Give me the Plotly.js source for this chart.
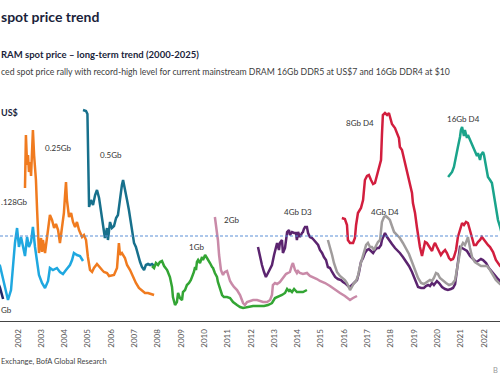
<!DOCTYPE html>
<html>
<head>
<meta charset="utf-8">
<script src="https://cdn.plot.ly/plotly-3.0.1.min.js"></script>
<style>
html,body{margin:0;padding:0;background:#fff;overflow:hidden;}
#chart{width:500px;height:383px;}
</style>
</head>
<body>
<div id="chart"></div>
<script>
// ---- DATA (decimal year, US$ index) ----
const yearTicks = [2002,2003,2004,2005,2006,2007,2008,2009,2010,2011,2012,2013,2014,2015,2016,2017,2018,2019,2020,2021,2022];
const refLevel = 8.5;

const mb64X = [2000.37,2000.80,2001.10,2001.23,2001.36];
const mb64Y = [7.1,5.1,4.1,3.3,2.2];

const mb128X = [2000.16,2000.71,2001.23,2001.40,2001.57,2001.70,2001.79,2001.87,2001.96,2002.04,2002.13,2002.21,2002.30,2002.39,2002.47,2002.56,2002.64,2002.73,2002.82,2002.90,2003.03,2003.16,2003.29,2003.37,2003.50,2003.67,2003.80,2003.93,2004.06,2004.23,2004.32,2004.40,2004.53,2004.66,2004.79];
const mb128Y = [9.1,7.3,5.5,3.8,2.1,3.1,5.6,7.8,9.3,7.4,8.4,7.3,6.5,8.4,7.4,7.9,9.4,7.4,5.9,4.6,3.8,3.3,4.0,5.3,5.1,5.3,4.9,4.7,5.1,5.6,6.1,6.8,6.6,6.5,6.0];

const mb256X = [2002.30,2002.32,2002.34,2002.39,2002.43,2002.47,2002.52,2002.56,2002.60,2002.64,2002.69,2002.73,2002.77,2002.82,2002.86,2002.90,2002.94,2002.99,2003.03,2003.07,2003.16,2003.24,2003.29,2003.37,2003.46,2003.55,2003.63,2003.72,2003.80,2003.89,2003.97,2004.02,2004.06,2004.10,2004.15,2004.19,2004.28,2004.36,2004.45,2004.53,2004.62,2004.75,2004.83,2004.92,2005.00,2005.09,2005.18,2005.26,2005.39,2005.52,2005.61,2005.69,2005.82,2005.91,2006.03,2006.12,2006.25,2006.29,2006.33,2006.38,2006.46,2006.59,2006.68,2006.81,2006.94,2007.06,2007.19,2007.32,2007.45,2007.58,2007.71,2007.84];
const mb256Y = [13.3,16.1,18.6,15.6,16.6,14.9,15.9,14.5,17.1,19.1,16.6,15.6,14.1,11.1,7.6,6.8,7.6,8.3,6.9,8.1,6.8,8.1,9.4,10.6,10.1,9.3,9.7,9.1,7.8,9.3,10.8,12.6,13.9,12.1,11.1,10.4,10.8,9.9,9.4,9.9,9.1,8.4,8.6,8.1,6.4,5.1,4.9,5.3,5.7,5.4,5.1,4.9,4.8,4.5,4.6,4.6,5.3,6.3,7.8,6.6,6.8,6.3,5.6,5.1,4.4,3.8,3.3,3.0,2.8,2.8,2.7,2.6];

const mb512X = [2004.79,2004.92,2004.98,2005.00,2005.03,2005.05,2005.13,2005.22,2005.31,2005.39,2005.48,2005.56,2005.65,2005.73,2005.82,2005.86,2005.95,2006.03,2006.12,2006.21,2006.29,2006.38,2006.46,2006.51,2006.59,2006.68,2006.76,2006.85,2006.94,2006.98,2007.06,2007.15,2007.24,2007.32,2007.41,2007.49,2007.58,2007.67,2007.75,2007.84];
const mb512Y = [21.1,21.0,20.7,17.1,12.6,11.4,12.1,11.6,12.6,13.1,12.3,11.1,9.6,8.3,9.3,8.1,9.9,9.3,9.5,10.3,10.6,12.3,13.6,14.1,13.3,12.1,11.1,9.6,8.3,7.8,7.4,6.6,5.9,5.4,5.1,5.6,5.7,5.6,5.7,5.5];

const gb1X = [2007.75,2007.84,2007.92,2008.01,2008.09,2008.18,2008.27,2008.40,2008.52,2008.61,2008.65,2008.74,2008.82,2008.87,2008.95,2009.04,2009.08,2009.17,2009.25,2009.34,2009.42,2009.47,2009.55,2009.60,2009.64,2009.68,2009.73,2009.81,2009.90,2009.94,2010.03,2010.11,2010.15,2010.24,2010.33,2010.37,2010.45,2010.54,2010.58,2010.67,2010.76,2010.84,2010.97,2011.10,2011.23,2011.40,2011.53,2011.66,2011.83,2011.96,2012.09,2012.26,2012.39,2012.56,2012.73,2012.90,2013.03,2013.16,2013.33,2013.46,2013.55,2013.63,2013.67,2013.76,2013.85,2013.89,2013.97,2014.10,2014.23,2014.40];
const gb1Y = [5.5,5.3,5.8,5.6,5.9,6.0,5.5,5.1,4.4,3.4,2.4,1.6,1.9,2.8,2.3,2.1,2.9,3.1,3.6,3.8,4.1,4.4,4.9,5.4,5.1,5.9,6.1,5.8,6.4,6.1,6.6,6.3,6.1,5.8,5.4,5.3,4.8,4.4,3.9,3.3,2.6,2.4,2.4,2.3,1.9,1.6,1.4,1.3,1.4,1.4,1.5,1.5,1.5,1.5,1.6,1.8,2.3,2.4,2.6,2.8,3.2,3.0,3.1,2.9,3.2,3.1,2.9,2.9,2.9,3.1];

const gb2X = [2010.45,2010.50,2010.54,2010.58,2010.63,2010.67,2010.71,2010.76,2010.80,2010.84,2010.88,2010.97,2011.01,2011.10,2011.18,2011.27,2011.40,2011.53,2011.66,2011.74,2011.83,2011.96,2012.09,2012.26,2012.39,2012.52,2012.69,2012.82,2012.90,2012.94,2013.03,2013.12,2013.24,2013.33,2013.42,2013.50,2013.59,2013.67,2013.76,2013.80,2013.89,2013.97,2014.02,2014.10,2014.23,2014.40,2014.53,2014.66,2014.83,2014.96,2015.18,2015.39,2015.61,2015.82,2016.03,2016.25,2016.38,2016.55];
const gb2Y = [10.4,9.6,8.9,8.1,6.6,5.6,5.1,4.8,4.6,4.8,4.9,5.0,4.6,4.0,3.7,3.4,3.1,2.6,1.8,1.6,1.9,2.0,2.1,2.1,2.0,1.9,1.9,2.1,2.6,3.6,3.8,3.7,3.9,4.2,4.5,4.7,4.8,4.9,5.6,5.8,5.1,4.8,5.0,4.8,4.7,4.8,4.5,4.4,4.2,4.0,3.8,3.5,3.1,2.8,2.5,2.1,2.3,2.5];

const gb4d3X = [2012.30,2012.39,2012.47,2012.56,2012.64,2012.73,2012.82,2012.90,2012.99,2013.07,2013.12,2013.20,2013.24,2013.33,2013.37,2013.46,2013.55,2013.63,2013.67,2013.76,2013.85,2013.93,2013.97,2014.02,2014.10,2014.19,2014.23,2014.27,2014.32,2014.40,2014.45,2014.53,2014.62,2014.70,2014.79,2014.88,2014.96,2015.05,2015.13,2015.22,2015.30,2015.39,2015.48,2015.61,2015.73,2015.86,2015.95,2016.08,2016.21,2016.29,2016.38,2016.46,2016.55,2016.63,2016.72,2016.81,2016.89,2016.98,2017.06,2017.15,2017.24,2017.32,2017.41,2017.49,2017.58,2017.62,2017.71,2017.75,2017.84,2017.92,2018.05,2018.18,2018.27,2018.39,2018.52,2018.65,2018.78,2018.91,2019.04,2019.17,2019.30,2019.42,2019.51,2019.60,2019.68,2019.77,2019.85,2019.98,2020.07,2020.20,2020.33,2020.45,2020.58,2020.67,2020.76,2020.84,2020.93,2020.97,2021.06,2021.14,2021.27,2021.40,2021.53,2021.66,2021.74,2021.87,2021.96,2022.09,2022.21,2022.34,2022.47,2022.60,2022.69,2022.90];
const gb4d3Y = [7.4,6.4,5.6,4.9,4.4,4.8,5.3,5.6,6.6,7.3,7.8,7.1,7.8,8.1,6.8,7.3,8.9,9.1,8.6,8.9,8.8,8.8,8.1,8.9,8.4,8.8,8.9,9.2,9.4,9.4,8.8,8.4,8.3,8.1,7.8,7.6,7.1,6.8,6.4,6.1,5.4,5.3,4.9,4.4,4.2,4.1,3.9,3.7,3.4,3.5,3.7,3.9,4.1,4.8,5.9,6.3,6.8,7.1,7.2,7.0,6.8,7.1,7.3,7.3,7.6,8.1,8.6,8.8,8.4,8.1,7.7,7.3,7.1,6.8,6.4,6.0,5.5,4.9,4.1,3.4,3.3,3.3,3.5,3.6,3.5,3.8,3.6,4.0,3.8,3.4,3.2,3.1,3.2,3.3,3.7,5.1,6.5,7.4,7.3,7.2,7.0,6.5,6.2,5.9,6.0,6.2,6.1,5.8,5.3,4.9,4.5,4.2,4.0,3.6];

const gb4d4X = [2015.30,2015.39,2015.48,2015.56,2015.69,2015.82,2015.95,2016.03,2016.12,2016.21,2016.25,2016.33,2016.42,2016.51,2016.59,2016.68,2016.76,2016.85,2016.94,2017.02,2017.11,2017.19,2017.28,2017.36,2017.45,2017.54,2017.58,2017.62,2017.71,2017.79,2017.88,2017.96,2018.05,2018.14,2018.27,2018.39,2018.52,2018.65,2018.78,2018.91,2019.04,2019.17,2019.30,2019.42,2019.55,2019.68,2019.77,2019.85,2019.94,2020.02,2020.11,2020.24,2020.37,2020.50,2020.63,2020.76,2020.84,2020.93,2021.01,2021.10,2021.18,2021.27,2021.31,2021.40,2021.49,2021.61,2021.74,2021.87,2022.00,2022.13,2022.26,2022.39,2022.51,2022.69,2022.90];
const gb4d4Y = [8.1,7.4,6.6,5.8,4.9,4.5,4.3,4.1,3.8,3.3,3.1,3.4,3.8,4.0,4.5,5.5,6.1,6.9,7.6,7.8,7.4,7.4,7.1,7.5,7.9,8.1,9.1,9.9,10.4,10.5,10.3,10.1,9.5,8.9,8.6,8.3,7.8,7.3,6.7,5.9,5.1,4.3,3.8,3.7,3.9,4.1,4.0,4.3,4.8,4.7,4.3,4.0,3.8,3.6,3.7,4.1,5.3,6.6,7.4,7.8,7.6,8.1,8.4,7.3,6.4,5.9,5.7,5.5,5.5,5.5,5.1,4.5,4.1,3.7,3.3];

const gb8d4X = [2015.90,2016.03,2016.12,2016.16,2016.25,2016.38,2016.46,2016.51,2016.59,2016.72,2016.81,2016.89,2016.98,2017.06,2017.15,2017.24,2017.32,2017.41,2017.49,2017.58,2017.62,2017.66,2017.75,2017.84,2017.92,2017.96,2018.05,2018.18,2018.27,2018.35,2018.39,2018.48,2018.57,2018.65,2018.74,2018.82,2018.91,2018.95,2019.04,2019.12,2019.17,2019.25,2019.34,2019.42,2019.47,2019.55,2019.60,2019.68,2019.77,2019.85,2019.90,2019.98,2020.07,2020.15,2020.24,2020.33,2020.41,2020.50,2020.58,2020.67,2020.71,2020.80,2020.88,2020.97,2021.06,2021.14,2021.23,2021.31,2021.40,2021.49,2021.57,2021.66,2021.74,2021.83,2021.91,2022.00,2022.09,2022.17,2022.26,2022.39,2022.51,2022.69,2022.90];
const gb8d4Y = [10.3,10.2,9.6,8.1,7.8,7.8,8.3,9.6,10.8,11.3,12.1,14.1,14.5,14.6,14.1,13.7,13.8,14.6,15.5,16.1,18.6,20.6,20.8,20.6,20.8,20.4,19.7,19.3,18.8,18.3,17.4,17.1,16.2,15.4,14.5,13.8,12.8,11.8,10.8,9.4,8.4,7.4,6.5,7.3,7.9,7.8,7.6,7.3,7.0,7.6,7.8,7.4,6.9,6.6,6.9,7.1,6.8,6.3,6.1,6.2,6.4,7.1,8.4,9.2,9.8,9.6,9.9,9.8,8.9,8.3,7.6,7.6,7.9,8.1,8.4,8.1,7.8,7.6,7.4,6.9,6.1,5.5,5.1];

const gb16d4X = [2020.46,2020.54,2020.63,2020.71,2020.76,2020.84,2020.88,2020.97,2021.01,2021.06,2021.10,2021.14,2021.18,2021.27,2021.31,2021.40,2021.49,2021.53,2021.61,2021.70,2021.74,2021.83,2021.87,2021.96,2022.00,2022.09,2022.17,2022.26,2022.34,2022.39,2022.47,2022.56,2022.60,2022.69,2022.82,2022.94];
const gb16d4Y = [14.4,14.6,14.9,15.4,16.1,16.9,17.4,18.4,19.1,19.4,18.8,18.5,19.1,18.3,18.6,18.1,17.6,17.3,16.9,16.5,16.8,16.1,16.6,16.9,16.6,15.6,14.4,14.1,13.8,13.1,11.8,10.8,10.1,9.4,8.1,7.1];

// ---- CHART ----
const FONT = 'Lato, "Open Sans", sans-serif';
function line(x, y, color) {
  return {x: x, y: y, type: 'scatter', mode: 'lines', line: {color: color, width: 2.5}, hoverinfo: 'skip', showlegend: false};
}
const traces = [
  line(mb64X, mb64Y, '#1f2a6b'),
  line(mb128X, mb128Y, '#1fa8e0'),
  line(mb256X, mb256Y, '#f07b1f'),
  line(mb512X, mb512Y, '#17708c'),
  line(gb1X, gb1Y, '#33a534'),
  line(gb2X, gb2Y, '#c98aa8'),
  line(gb4d3X, gb4d3Y, '#5b246f'),
  line(gb4d4X, gb4d4Y, '#a09c9c'),
  line(gb8d4X, gb8d4Y, '#d21e3e'),
  line(gb16d4X, gb16d4Y, '#1aa48b')
];

function lbl(text, x, y, anchor) {
  return {text: text, x: x, y: y, xref: 'x', yref: 'y', showarrow: false, xanchor: anchor || 'center', yanchor: 'middle',
          font: {family: FONT, size: 8, color: '#333'}};
}
function ptxt(text, x, y, size, color, bold, anchor) {
  return {text: bold ? '<b>' + text + '</b>' : text, x: x, y: y, xref: 'paper', yref: 'paper', showarrow: false,
          xanchor: anchor, yanchor: 'middle', borderpad: 0, font: {family: FONT, size: size, color: color}};
}

const layout = {
  width: 500, height: 383,
  margin: {l: 0, r: 0, t: 66, b: 62, pad: 0},
  paper_bgcolor: '#fff', plot_bgcolor: '#fff',
  showlegend: false,
  xaxis: {
    range: [2001.2275, 2022.687], tickvals: yearTicks, ticktext: yearTicks.map(String),
    tickangle: -90, ticks: 'outside', ticklen: 4, tickcolor: 'rgba(0,0,0,0)',
    tickfont: {family: FONT, size: 8, color: '#555'},
    showgrid: false, zeroline: false, showline: true, linecolor: '#444', linewidth: 1, fixedrange: true
  },
  yaxis: {range: [0, 25.5], visible: false, fixedrange: true},
  shapes: [{type: 'line', xref: 'paper', x0: 0, x1: 1, yref: 'y', y0: refLevel, y1: refLevel,
            line: {color: '#5b8fd6', width: 1, dash: '3px,2px'}}],
  annotations: [
    ptxt('spot price trend', 0, 1.196, 14, '#1b1f3b', true, 'left'),
    ptxt('RAM spot price – long-term trend (2000-2025)', 0, 1.047, 9.5, '#1b1f3b', true, 'left'),
    ptxt('ced spot price rally with record-high level for current mainstream DRAM 16Gb DDR5 at US$7 and 16Gb DDR4 at $10', 0, 0.98, 8.7, '#404040', false, 'left'),
    ptxt('US$', 0, 0.816, 9, '#1b1f3b', true, 'left'),
    ptxt('Exchange, BofA Global Research', 0, -0.157, 7.5, '#444', false, 'left'),
    ptxt('B', 0.984, -0.196, 7.5, '#999', false, 'left'),
    ptxt('Gb', 0, 0.043, 8, '#333', false, 'left'),
    ptxt('.128Gb', 0, 0.467, 8, '#333', false, 'left'),
    lbl('0.25Gb', 2003.72, 17.3),
    lbl('0.5Gb', 2005.99, 16.6),
    lbl('1Gb', 2009.64, 7.4),
    lbl('2Gb', 2011.16, 10.1),
    lbl('4Gb D3', 2014.02, 10.9),
    lbl('8Gb D4', 2016.68, 19.8),
    lbl('4Gb D4', 2017.75, 10.9),
    lbl('16Gb D4', 2021.10, 20.2)
  ]
};

Plotly.newPlot('chart', traces, layout, {displayModeBar: false, staticPlot: true});
</script>
</body>
</html>
